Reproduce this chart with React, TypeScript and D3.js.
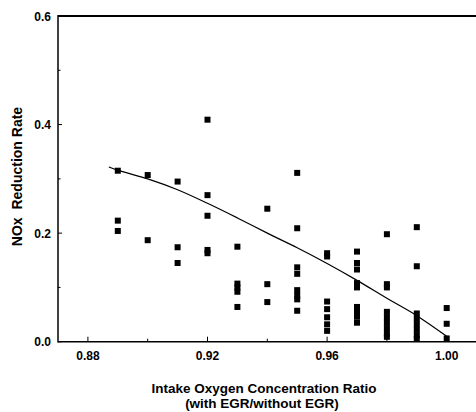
import React from "react";
import * as d3 from "d3";

const xMajorTicks = [0.88, 0.92, 0.96, 1.0];
const xMinorTicks = [0.9, 0.94, 0.98];
const yMajorTicks = [0.0, 0.2, 0.4, 0.6];
const yMinorTicks = [0.1, 0.3, 0.5];

// scatter points: intake O2 ratio and NOx reduction rate
const pointX = [
  0.89, 0.89, 0.89,
  0.90, 0.90,
  0.91, 0.91, 0.91,
  0.92, 0.92, 0.92, 0.92, 0.92,
  0.93, 0.93, 0.93, 0.93, 0.93,
  0.94, 0.94, 0.94,
  0.95, 0.95, 0.95, 0.95, 0.95, 0.95, 0.95, 0.95,
  0.96, 0.96, 0.96, 0.96, 0.96, 0.96, 0.96,
  0.97, 0.97, 0.97, 0.97, 0.97, 0.97, 0.97, 0.97, 0.97,
  0.98, 0.98, 0.98, 0.98, 0.98, 0.98, 0.98, 0.98, 0.98,
  0.99, 0.99, 0.99, 0.99, 0.99, 0.99, 0.99, 0.99,
  1.00, 1.00, 1.00,
];
const pointY = [
  0.315, 0.223, 0.204,
  0.307, 0.187,
  0.295, 0.174, 0.145,
  0.409, 0.270, 0.232, 0.169, 0.163,
  0.175, 0.107, 0.092, 0.100, 0.064,
  0.245, 0.106, 0.073,
  0.311, 0.209, 0.137, 0.125, 0.095, 0.085, 0.078, 0.057,
  0.163, 0.157, 0.074, 0.060, 0.045, 0.032, 0.020,
  0.166, 0.145, 0.133, 0.108, 0.100, 0.064, 0.055, 0.046, 0.035,
  0.198, 0.106, 0.100, 0.055, 0.045, 0.035, 0.025, 0.015, 0.009,
  0.211, 0.139, 0.052, 0.042, 0.032, 0.022, 0.012, 0.005,
  0.062, 0.033, 0.006,
];

// fitted trend line
const fitX = [0.887, 0.89, 0.9, 0.91, 0.92, 0.93, 0.94, 0.95, 0.96, 0.97, 0.98, 0.99, 1.0];
const fitY = [0.322, 0.316, 0.3, 0.28, 0.255, 0.228, 0.2, 0.173, 0.144, 0.113, 0.08, 0.048, 0.01];

const xTitle1 = "Intake Oxygen Concentration Ratio";
const xTitle2 = "(with EGR/without EGR)";
const yTitle = "NOx  Reduction Rate";

export default function App() {
  const W = 476;
  const H = 412;
  const left = 58;
  const top = 16;
  const bottom = 341.7;
  const x = d3.scaleLinear().domain([0.87, 1.01]).range([left, 476.6]);
  const y = d3.scaleLinear().domain([0, 0.6]).range([bottom, top]);
  const font = "'Liberation Sans', Arial, sans-serif";
  const line = d3
    .line<number>()
    .x((_, i) => x(fitX[i]))
    .y((d) => y(d))
    .curve(d3.curveMonotoneX);
  const sq = 6;

  return (
    <svg
      width={W}
      height={H}
      style={{ position: "fixed", left: 0, top: 0, background: "#fff" }}
      fontFamily={font}
    >
      <rect x={0} y={0} width={W} height={H} fill="#fff" />
      {/* frame */}
      <line x1={left} x2={x(1.01)} y1={top} y2={top} stroke="#000" strokeWidth={2} />
      <line x1={left} x2={x(1.01)} y1={bottom} y2={bottom} stroke="#000" strokeWidth={1.5} />
      <line x1={left} x2={left} y1={top - 1} y2={bottom + 0.75} stroke="#000" strokeWidth={1.5} />
      {/* y ticks */}
      {yMajorTicks.map((t) => (
        <g key={"ym" + t}>
          <line x1={left} x2={left + 4} y1={y(t)} y2={y(t)} stroke="#000" strokeWidth={1} />
          <text
            x={left - 7}
            y={y(t) + 4.5}
            textAnchor="end"
            fontSize={12}
            fontWeight="bold"
          >
            {t.toFixed(1)}
          </text>
        </g>
      ))}
      {yMinorTicks.map((t) => (
        <line key={"yn" + t} x1={left} x2={left + 2.5} y1={y(t)} y2={y(t)} stroke="#000" strokeWidth={1} />
      ))}
      {/* x ticks */}
      {xMajorTicks.map((t) => (
        <g key={"xm" + t}>
          <line x1={x(t)} x2={x(t)} y1={bottom} y2={bottom - 5} stroke="#000" strokeWidth={1} />
          <text x={x(t)} y={bottom + 18} textAnchor="middle" fontSize={12} fontWeight="bold">
            {t.toFixed(2)}
          </text>
        </g>
      ))}
      {xMinorTicks.map((t) => (
        <line key={"xn" + t} x1={x(t)} x2={x(t)} y1={bottom} y2={bottom - 3} stroke="#000" strokeWidth={1} />
      ))}
      {/* fit line */}
      <path d={line(fitY) || ""} fill="none" stroke="#000" strokeWidth={1.2} />
      {/* points */}
      {pointY.map((v, i) => (
        <rect
          key={"p" + i}
          x={x(pointX[i]) - sq / 2}
          y={y(v) - sq / 2}
          width={sq}
          height={sq}
          fill="#000"
        />
      ))}
      {/* titles */}
      <text x={264} y={393} textAnchor="middle" fontSize={13.5} fontWeight="bold">
        {xTitle1}
      </text>
      <text x={262} y={408} textAnchor="middle" fontSize={13.5} fontWeight="bold">
        {xTitle2}
      </text>
      <text
        transform={`translate(${21.5},${176.5}) rotate(-90)`}
        textAnchor="middle"
        fontSize={14}
        fontWeight="bold"
        style={{ whiteSpace: "pre" }}
      >
        {yTitle}
      </text>
    </svg>
  );
}
